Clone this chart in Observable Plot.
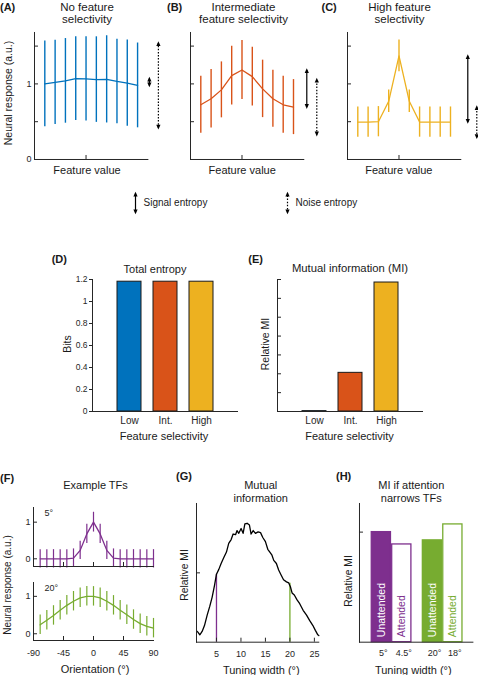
<!DOCTYPE html>
<html><head><meta charset="utf-8">
<script src="https://cdn.jsdelivr.net/npm/d3@7"></script>
<script src="https://cdn.jsdelivr.net/npm/@observablehq/plot@0.6"></script>
<style>
html,body{margin:0;padding:0;background:#fff;}
#fig{position:relative;width:478px;height:675px;overflow:hidden;background:#fff;font-family:"Liberation Sans",Arial,Helvetica,sans-serif;color:#1a1a1a;}
.t{position:absolute;white-space:nowrap;line-height:1;}
</style></head><body><div id="fig"></div>
<script>
// ---------------- data ----------------
const featureIdx = [1, 2, 3, 4, 5, 6, 7, 8, 9, 10];
const noSelMean  = [1.00, 1.02, 1.04, 1.07, 1.066, 1.057, 1.06, 1.033, 1.01, 0.98];
const noSelSd    = [0.566, 0.557, 0.56, 0.553, 0.557, 0.566, 0.577, 0.559, 0.57, 0.561];
const intSelMean = [0.724, 0.803, 0.921, 1.11, 1.184, 1.096, 0.934, 0.803, 0.724, 0.693];
const intSelSd   = [0.377, 0.386, 0.37, 0.388, 0.39, 0.39, 0.38, 0.377, 0.377, 0.364];
const highSelMean = [0.495, 0.495, 0.50, 0.77, 1.37, 0.77, 0.495, 0.495, 0.495, 0.495];
const highSelSd   = [0.2, 0.2, 0.2, 0.15, 0.21, 0.15, 0.2, 0.2, 0.2, 0.2];

const selLabels = ["Low", "Int.", "High"];
const selColors = ["#0072BD", "#D95319", "#EDB120"];
const totalEntropy = [1.18, 1.18, 1.18];
const entropyTicks = [0, 0.2, 0.4, 0.6, 0.8, 1, 1.2];
const relMI = [0.02, 2.05, 6.84];
const miTicks = [1, 2, 3, 4, 5, 6, 7];

const orientations = [-80, -70, -60, -50, -40, -30, -20, -10, 0, 10, 20, 30, 40, 50, 60, 70, 80, 90];
const tf5Mean  = [0, 0, 0, 0, 0, 0.02, 0.23, 0.68, 1.0, 0.68, 0.23, 0.02, 0, 0, 0, 0, 0, 0];
const tf5Sd    = [0.25, 0.25, 0.25, 0.25, 0.25, 0.25, 0.25, 0.26, 0.27, 0.26, 0.25, 0.25, 0.25, 0.25, 0.25, 0.25, 0.25, 0.25];
const tf20Mean = [0.24, 0.36, 0.49, 0.63, 0.76, 0.87, 0.96, 1.0, 1.0, 0.96, 0.87, 0.76, 0.63, 0.51, 0.38, 0.27, 0.2, 0.15];
const tf20Sd   = [0.26, 0.26, 0.26, 0.26, 0.26, 0.26, 0.26, 0.26, 0.26, 0.26, 0.26, 0.26, 0.26, 0.26, 0.26, 0.26, 0.26, 0.26];
const orientTicks = [-90, -45, 0, 45, 90];
const tfLabels = ["5°", "20°"];
const tfColors = ["#7E2F8E", "#77AC30"];

const tuningWidth = [1.0, 1.2, 1.6, 2.07, 2.55, 3.1, 3.64, 4.12, 4.6, 5.0, 5.48, 5.95, 6.5, 7.04, 7.5, 8.0, 8.4, 8.9, 9.2, 9.56, 10.03, 10.44, 10.8, 11.26, 11.73, 12.07, 12.5, 12.96, 13.5, 14.0, 14.46, 15.0, 15.48, 15.9, 16.3, 16.7, 17.24, 17.7, 18.2, 18.7, 19.3, 19.76, 20.1, 20.44, 20.9, 21.46, 22.0, 22.7, 23.4, 24.05, 24.7, 25.2, 25.7, 25.9];
const miCurve     = [0.16, 0.145, 0.106, 0.155, 0.24, 0.39, 0.52, 0.65, 0.82, 0.98, 1.05, 1.135, 1.22, 1.30, 1.425, 1.48, 1.56, 1.55, 1.61, 1.57, 1.64, 1.57, 1.705, 1.715, 1.69, 1.56, 1.61, 1.57, 1.59, 1.58, 1.51, 1.45, 1.34, 1.30, 1.26, 1.18, 1.135, 1.04, 0.97, 0.90, 0.87, 0.855, 0.80, 0.71, 0.68, 0.61, 0.555, 0.46, 0.39, 0.31, 0.24, 0.17, 0.106, 0.095];
const markedWidths = [5, 20];
const markedMI = [0.98, 0.85];
const widthTicks = [5, 10, 15, 20, 25];

const attCond = ["Unattended", "Attended", "Unattended", "Attended"];
const attWidthLabels = ["5°", "4.5°", "20°", "18°"];
const attMI = [1.0, 0.888, 0.925, 1.07];
const attGroup = [0, 0, 1, 1];

const legendLabels = ["Signal entropy", "Noise entropy"];

// ---------------- helpers ----------------
const fig = document.getElementById("fig");
const FONT = '"Liberation Sans", Arial, Helvetica, sans-serif';
const AX = "#262626";
const NS = "http://www.w3.org/2000/svg";

function head(color) {
  const m = document.createElementNS(NS, "marker");
  m.setAttribute("viewBox", "-5 -5 10 10");
  m.setAttribute("markerWidth", "6");
  m.setAttribute("markerHeight", "6");
  m.setAttribute("markerUnits", "userSpaceOnUse");
  m.setAttribute("orient", "auto-start-reverse");
  m.setAttribute("refX", "1");
  const p = document.createElementNS(NS, "path");
  p.setAttribute("d", "M-4,-3.5L4,0L-4,3.5Z");
  p.setAttribute("fill", color);
  p.setAttribute("stroke", "none");
  m.append(p);
  return m;
}

function framedPlot(box, pad, opts) {
  const [x0, y0, x1, y1] = box;
  const width = x1 - x0 + pad[3] + pad[1];
  const height = y1 - y0 + pad[0] + pad[2];
  const svg = Plot.plot({
    width, height,
    marginTop: pad[0], marginRight: pad[1], marginBottom: pad[2], marginLeft: pad[3],
    style: {fontFamily: FONT, fontSize: "9px", color: AX, background: "none", overflow: "visible"},
    ...opts
  });
  svg.style.position = "absolute";
  svg.style.left = (x0 - pad[3]) + "px";
  svg.style.top = (y0 - pad[0]) + "px";
  svg.style.maxWidth = "none";
  fig.append(svg);
  return svg;
}
const inTicksY = (vals, fw, len = 4) => Plot.tickY(vals, {y: d => d, insetRight: fw - len, stroke: AX, strokeWidth: 1});
const inTicksX = (vals, fh, len = 4) => Plot.tickX(vals, {x: d => d, insetTop: fh - len, stroke: AX, strokeWidth: 1});
const axisLines = () => [Plot.frame({anchor: "left", stroke: AX}), Plot.frame({anchor: "bottom", stroke: AX})];

function txt(s, x, y, {size = 11, weight = "normal", anchor = "middle", rotate = 0, color = "#1a1a1a"} = {}) {
  const d = document.createElement("div");
  d.className = "t";
  d.textContent = s;
  d.style.fontSize = size + "px";
  d.style.fontWeight = weight;
  d.style.color = color;
  d.style.left = x + "px";
  d.style.top = y + "px";
  const tx = anchor === "middle" ? "-50%" : anchor === "end" ? "-100%" : "0";
  d.style.transform = `translate(${tx},-50%)` + (rotate ? ` rotate(${rotate}deg)` : "");
  fig.append(d);
}

// ---------------- A-C ----------------
function tuningPanel(mean, sd, color, box, withLabels, arrowDx) {
  const rows = featureIdx.map((i, k) => ({i, m: mean[k], s: sd[k]}));
  const lo = d3.min(mean), hi = d3.max(mean), s0 = sd[mean.indexOf(lo)];
  const xMax = 11, fw = box[2] - box[0], fh = box[3] - box[1];
  const marks = [
    Plot.ruleX(rows, {x: "i", y1: d => d.m - d.s, y2: d => d.m + d.s, stroke: color, strokeWidth: 1.4}),
    Plot.line(rows, {x: "i", y: "m", stroke: color, strokeWidth: 1.3}),
    ...axisLines(),
    inTicksY([0.5, 1, 1.5], fw), inTicksX([5], fh),
    Plot.link([{lo, hi}], {x1: () => xMax, x2: () => xMax, y1: "lo", y2: "hi", dx: arrowDx[0], stroke: "#000", strokeWidth: 1.2, markerStart: head, markerEnd: head}),
    Plot.link([{lo: lo - s0, hi: lo + s0}], {x1: () => xMax, x2: () => xMax, y1: "lo", y2: "hi", dx: arrowDx[1], stroke: "#000", strokeWidth: 1.2, strokeDasharray: "1.5,1.6", markerStart: head, markerEnd: head})
  ];
  if (withLabels) marks.push(Plot.axisY({ticks: [0, 1], tickSize: 0, tickPadding: 3, tickFormat: d => String(d), label: null, fontSize: 9}));
  framedPlot(box, [4, 26, 4, 14], {x: {domain: [0, xMax], axis: null}, y: {domain: [0, 1.68], axis: null}, marks});
}
tuningPanel(noSelMean, noSelSd, selColors[0], [34.3, 32, 147.7, 159], true, [1.5, 10.5]);
tuningPanel(intSelMean, intSelSd, selColors[1], [190, 32, 303.3, 159], false, [3, 13]);
tuningPanel(highSelMean, highSelSd, selColors[2], [346.7, 32, 460, 159], false, [7, 16]);

// legend
{
  const rows = legendLabels.map((label, k) => ({label, dotted: k === 1}));
  const svg = Plot.plot({
    width: 478, height: 30, margin: 0,
    style: {fontFamily: FONT, fontSize: "10px", color: "#1a1a1a", background: "none", overflow: "visible"},
    x: {type: "point", domain: legendLabels, range: [135, 287.3], padding: 0, axis: null},
    y: {domain: [0, 1], range: [24, 5], axis: null},
    marks: [
      Plot.link(rows.filter(d => !d.dotted), {x1: "label", x2: "label", y1: () => 0, y2: () => 1, stroke: "#000", strokeWidth: 1.2, markerStart: head, markerEnd: head}),
      Plot.link(rows.filter(d => d.dotted), {x1: "label", x2: "label", y1: () => 0, y2: () => 1, stroke: "#000", strokeWidth: 1.2, strokeDasharray: "1.5,1.6", markerStart: head, markerEnd: head}),
      Plot.text(rows, {x: "label", y: () => 0.5, text: "label", dx: 8, textAnchor: "start", fontSize: 10, fill: "#1a1a1a"})
    ]
  });
  svg.style.position = "absolute"; svg.style.left = "0px"; svg.style.top = "188px";
  svg.style.maxWidth = "none";
  fig.append(svg);
}

// ---------------- D, E ----------------
function barPanel(values, box, yDomain, withYLabels) {
  const rows = selLabels.map((c, k) => ({c, v: values[k], col: selColors[k]}));
  const fw = box[2] - box[0];
  const marks = [
    Plot.barY(rows, {x: "c", y: "v", fill: "col", stroke: "#1a1a1a", strokeWidth: 1}),
    ...axisLines(),
    Plot.axisX({tickSize: 0, tickPadding: 5, label: null, fontSize: 10})
  ];
  if (withYLabels) marks.push(Plot.axisY({ticks: entropyTicks, tickSize: 3, tickPadding: 2, tickFormat: d => String(d), label: null, fontSize: 8.5}));
  else marks.push(inTicksY(miTicks, fw));
  framedPlot(box, [4, 6, 18, 40], {
    x: {type: "band", domain: selLabels, paddingInner: 0.34, paddingOuter: 0.66, axis: null},
    y: {domain: yDomain, axis: null},
    color: {type: "identity"},
    marks
  });
}
barPanel(totalEntropy, [92, 279, 237, 411], [0, 1.2], true);
barPanel(relMI, [277, 279, 422, 411], [0, 7], false);

// ---------------- F ----------------
function tfPanel(mean, sd, color, box, yDomain, label, showX) {
  const rows = orientations.map((o, k) => ({o, m: mean[k], s: sd[k]}));
  const fw = box[2] - box[0], fh = box[3] - box[1];
  const marks = [
    Plot.ruleX(rows, {x: "o", y1: d => d.m - d.s, y2: d => d.m + d.s, stroke: color, strokeWidth: 1.2}),
    Plot.line(rows, {x: "o", y: "m", stroke: color, strokeWidth: 1.3}),
    ...axisLines(),
    inTicksY([0, 1], fw), inTicksX([-45, 0, 45], fh),
    Plot.axisY({ticks: [0, 1], tickSize: 0, tickPadding: 3, tickFormat: d => String(d), label: null, fontSize: 9}),
    Plot.text([label], {frameAnchor: "top-left", text: d => d, dx: 11, dy: 6, lineAnchor: "middle", textAnchor: "start", fontSize: 9, fill: AX})
  ];
  if (showX) marks.push(Plot.axisX({ticks: orientTicks, tickSize: 0, tickPadding: 9, tickFormat: d => String(d), label: null, fontSize: 9}));
  framedPlot(box, [4, 8, 20, 16], {x: {domain: [-90, 90], axis: null}, y: {domain: yDomain, axis: null}, marks});
}
tfPanel(tf5Mean, tf5Sd, tfColors[0], [33, 507, 153, 566], [-0.21, 1.4], tfLabels[0], false);
tfPanel(tf20Mean, tf20Sd, tfColors[1], [33, 582, 153, 640], [-0.18, 1.37], tfLabels[1], true);

// ---------------- G ----------------
{
  const rows = tuningWidth.map((w, k) => ({w, v: miCurve[k]}));
  const marked = markedWidths.map((w, k) => ({w, v: markedMI[k], c: tfColors[k]}));
  const box = [196, 503, 318.3, 641.7];
  framedPlot(box, [4, 8, 20, 6], {
    x: {domain: [0.92, 25.9], axis: null},
    y: {domain: [0, 2], axis: null},
    color: {type: "identity"},
    marks: [
      Plot.ruleX(marked, {x: "w", y1: () => 0, y2: "v", stroke: "c", strokeWidth: 1.3}),
      Plot.line(rows, {x: "w", y: "v", stroke: "#000", strokeWidth: 1.3}),
      ...axisLines(),
      inTicksX(widthTicks, box[3] - box[1]),
      inTicksY([1], box[2] - box[0]),
      Plot.axisX({ticks: widthTicks, tickSize: 0, tickPadding: 8, tickFormat: d => String(d), label: null, fontSize: 9})
    ]
  });
}

// ---------------- H ----------------
{
  const rows = attCond.map((cond, k) => ({
    cond, v: attMI[k], lab: attWidthLabels[k],
    pos: attGroup[k] * 2.5 + (k - 2 * attGroup[k]),
    c: tfColors[attGroup[k]], att: cond === "Attended"
  }));
  const posLabel = new Map(rows.map(d => [d.pos, d.lab]));
  const box = [359.3, 503, 472.7, 641.7];
  framedPlot(box, [4, 8, 20, 6], {
    x: {domain: [-1.07, 4.48], axis: null},
    y: {domain: [0, 1.26], axis: null},
    color: {type: "identity"},
    marks: [
      Plot.rectY(rows, {x1: d => d.pos - 0.47, x2: d => d.pos + 0.47, y1: () => 0, y2: "v", fill: d => d.att ? "#ffffff" : d.c, stroke: "c", strokeWidth: 1.3}),
      Plot.text(rows, {x: "pos", y: () => 0, text: "cond", rotate: -90, textAnchor: "start", lineAnchor: "middle", dy: -5, fill: d => d.att ? d.c : "#ffffff", fontSize: 10.5}),
      ...axisLines(),
      inTicksY([1], box[2] - box[0]),
      Plot.axisX({ticks: rows.map(d => d.pos), tickSize: 0, tickPadding: 7, dx: 2, tickFormat: d => posLabel.get(d), label: null, fontSize: 9})
    ]
  });
}

// ---------------- text ----------------
const B = {weight: "bold", anchor: "start", size: 11};
txt("(A)", 0, 7, B); txt("(B)", 167, 7, B); txt("(C)", 321.5, 7, B);
txt("No feature", 87, 7.5, {size: 11.5}); txt("selectivity", 87, 20, {size: 11.5});
txt("Intermediate", 243.5, 7.5, {size: 11.5}); txt("feature selectivity", 243.5, 20, {size: 11.5});
txt("High feature", 399.5, 7.5, {size: 11.5}); txt("selectivity", 399.5, 20, {size: 11.5});
txt("Neural response (a.u.)", 8, 92.5, {size: 10.5, rotate: -90});
txt("Feature value", 87, 170); txt("Feature value", 242.2, 170); txt("Feature value", 398.8, 170);

txt("(D)", 51.7, 259, B); txt("Total entropy", 155, 269);
txt("Bits", 66.7, 344, {size: 10.5, rotate: -90});
txt("Feature selectivity", 164, 435.5);
txt("(E)", 248.3, 259, B); txt("Mutual information (MI)", 350, 269, {size: 11.3});
txt("Relative MI", 265, 343.5, {size: 10.5, rotate: -90});
txt("Feature selectivity", 349.5, 435.5);

txt("(F)", 0, 477.5, B); txt("Example TFs", 95.5, 485);
txt("Neural response (a.u.)", 8.3, 585, {size: 10, rotate: -90});
txt("Orientation (°)", 95, 669);
txt("(G)", 176, 476, B); txt("Mutual", 260.7, 485); txt("information", 260.7, 497.5);
txt("Relative MI", 184.7, 575, {size: 10.3, rotate: -90});
txt("Tuning width (°)", 261.3, 669.5);
txt("(H)", 336, 476, B); txt("MI if attention", 411.3, 485); txt("narrows TFs", 411.3, 497.5);
txt("Relative MI", 348.7, 581, {size: 10.3, rotate: -90});
txt("Tuning width (°)", 413.3, 669.5);
</script></body></html>
